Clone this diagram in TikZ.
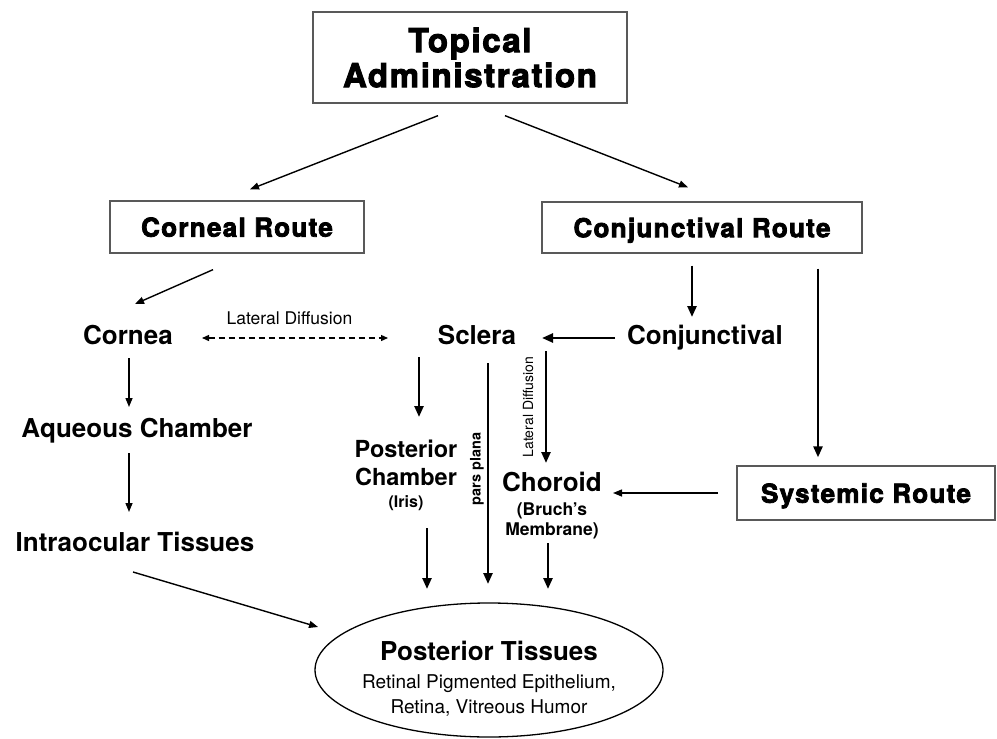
\documentclass[tikz,border=0pt]{standalone}
\usepackage{fontspec}
\setmainfont{TeX Gyre Heros}
\newfontfamily\heavyfont{TeX Gyre Heros}[BoldFeatures={FakeBold=3,LetterSpace=5}]
\usetikzlibrary{shapes.geometric,arrows.meta,calc}
\tikzset{
  boxnode/.style={draw=black!65, line width=1.3pt, inner sep=0pt},
  routefont/.style={font=\heavyfont\bfseries\fontsize{26}{30}\selectfont, text depth=0pt},
  lbl/.style={font=\bfseries\fontsize{26}{30}\selectfont, text depth=0pt, inner sep=1pt},
  thickarr/.style={line width=2.4pt, -{Triangle[length=11pt,width=9pt]}},
  thinarr/.style={line width=1.4pt, -{Triangle[length=9pt,width=7pt]}},
  dasharr/.style={line width=1.3pt, dash pattern=on 6pt off 4pt, {Triangle[length=7pt,width=6pt]}-{Triangle[length=7pt,width=6pt]}},
  small/.style={font=\fontsize{17.5}{19}\selectfont},
}
\begin{document}
\begin{tikzpicture}[x=1pt,y=-1pt]
\useasboundingbox[fill=white] (0,0) rectangle (997,739);

% boxes
\node[boxnode, minimum width=314pt, minimum height=91pt, align=center,
      font=\heavyfont\bfseries\fontsize{33}{35}\selectfont] (top) at (470,57.5) {Topical\\Administration};
\node[boxnode, routefont, minimum width=254pt, minimum height=52pt] (corneal) at (237,227) {Corneal Route};
\node[boxnode, routefont, minimum width=320pt, minimum height=51pt] (conjr) at (702,227.5) {Conjunctival Route};
\node[boxnode, routefont, minimum width=258pt, minimum height=54pt] (systemic) at (866,493) {Systemic Route};

% labels
\node[lbl] (cornea) at (128,335) {Cornea};
\node[lbl] (aqueous) at (137,428) {Aqueous Chamber};
\node[lbl] (intra) at (135,542) {Intraocular Tissues};
\node[lbl] (sclera) at (477,335) {Sclera};
\node[lbl] (conj) at (705,335) {Conjunctival};
\node[align=center, inner sep=0pt, font=\bfseries\fontsize{16}{22}\selectfont] (pc) at (406,475)
  {{\fontsize{23.5}{28}\selectfont Posterior}\\[6pt]{\fontsize{23.5}{28}\selectfont Chamber}\\(Iris)};
\node[align=center, inner sep=0pt, font=\bfseries\fontsize{17.5}{20}\selectfont] (choroid) at (552,506)
  {{\fontsize{26}{28}\selectfont Choroid}\\[4pt](Bruch's\\Membrane)};

% ellipse
\node[ellipse, draw, line width=1.3pt, minimum width=348pt, minimum height=134pt, inner sep=0pt] (pt) at (489,670) {};
\node[align=center, inner sep=0pt, font=\fontsize{19}{25}\selectfont] (ptt) at (489,679)
  {{\bfseries\fontsize{26}{28}\selectfont Posterior Tissues}\\[3pt]Retinal Pigmented Epithelium,\\Retina, Vitreous Humor};

% thin arrows
\draw[thinarr] ($(top.south)+(-32,12)$) -- ($(corneal.north)+(13,-11)$);
\draw[thinarr] ($(top.south)+(35,12)$) -- ($(conjr.north)+(-14,-14)$);
\draw[thinarr] ($(corneal.south)+(-24,16)$) -- ($(cornea)+(7,-31)$);
\draw[thinarr] ($(cornea)+(1,23)$) -- ($(aqueous)+(-8,-21)$);
\draw[thinarr] ($(aqueous)+(-8,25)$) -- ($(intra)+(-6,-30)$);
\draw[thinarr] ($(intra)+(-2,30)$) -- ($(pt)+(-171,-43)$);
\draw[thinarr] ($(systemic)+(-148,0)$) -- ($(choroid)+(61,-13)$);
\draw[dasharr] ($(cornea)+(74,3)$) -- ($(sclera)+(-89,3)$)
  node[pos=0.47, yshift=20pt, small] {Lateral Diffusion};

% thick arrows
\draw[thickarr] ($(conjr.south)+(-10,12)$) -- ($(conj)+(-13,-18)$);
\draw[thickarr] ($(conjr.south)+(116,15)$) -- ($(systemic.north)+(-48,-8)$);
\draw[thickarr] ($(conj)+(-90,3)$) -- ($(sclera)+(65,3)$);
\draw[thickarr] ($(sclera)+(-58,22)$) -- ($(pc)+(13,-58)$);
\draw[thickarr] ($(sclera)+(11,28)$) -- ($(pt)+(-1,-86)$)
  node[pos=0.48, xshift=-11pt, rotate=90, font=\bfseries\fontsize{14.5}{17}\selectfont] {pars plana};
\draw[thickarr] ($(sclera)+(69,16)$) -- ($(choroid)+(-6,-43)$)
  node[midway, xshift=-18pt, rotate=90, font=\fontsize{14}{17}\selectfont] {Lateral Diffusion};
\draw[thickarr] ($(pc)+(21,53)$) -- ($(pt)+(-62,-81)$);
\draw[thickarr] ($(choroid)+(-4,37)$) -- ($(pt)+(59,-81)$);
\end{tikzpicture}
\end{document}
